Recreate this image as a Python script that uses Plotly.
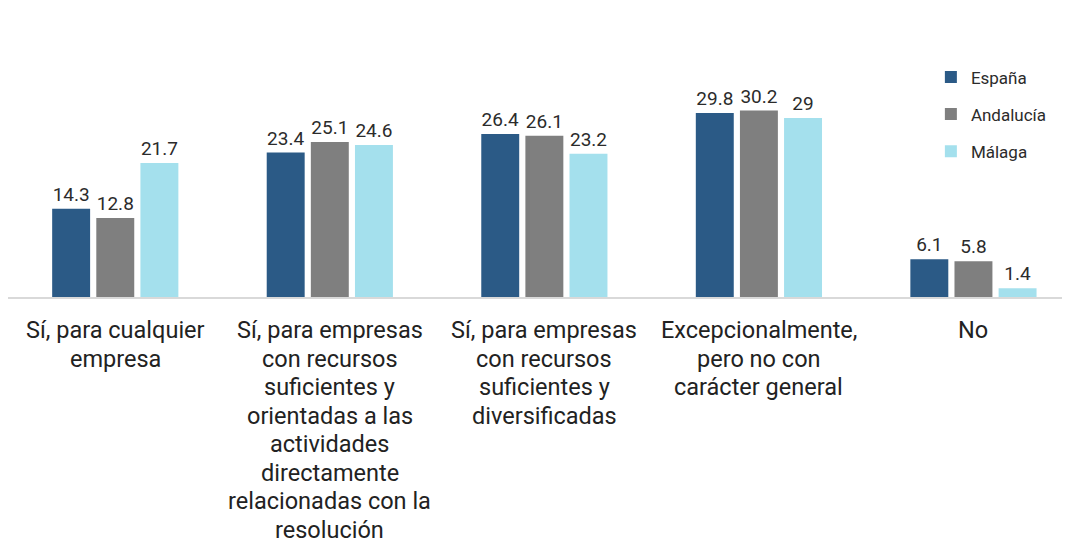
import plotly.graph_objects as go

categories = [
    "Sí, para cualquier<br>empresa",
    "Sí, para empresas<br>con recursos<br>suficientes y<br>orientadas a las<br>actividades<br>directamente<br>relacionadas con la<br>resolución",
    "Sí, para empresas<br>con recursos<br>suficientes y<br>diversificadas",
    "Excepcionalmente,<br>pero no con<br>carácter general",
    "No",
]
espana = [14.3, 23.4, 26.4, 29.8, 6.1]
andalucia = [12.8, 25.1, 26.1, 30.2, 5.8]
malaga = [21.7, 24.6, 23.2, 29, 1.4]

series = [("España", espana, "#2b5a86"), ("Andalucía", andalucia, "#7f7f7f"), ("Málaga", malaga, "#a4e0ed")]

FONT = "Roboto"
xs = list(range(len(categories)))

fig = go.Figure()
for name, vals, color in series:
    fig.add_trace(go.Bar(
        x=xs, y=vals, name=name, legendgroup=name,
        marker=dict(color=color, line=dict(width=0)),
        text=[f"{v:g}" for v in vals], textposition="outside",
        textfont=dict(family=FONT, size=19, color="#2b2b2b"),
        cliponaxis=False,
    ))

LINE_H = 28.5
for i, cat in enumerate(categories):
    for j, line in enumerate(cat.split("<br>")):
        fig.add_annotation(
            x=i, y=0, xref="x", yref="y", text=line, showarrow=False,
            yanchor="top", xanchor="center", yshift=-(17 + j * LINE_H),
            font=dict(family=FONT, size=23.5, color="#222222"),
        )

fig.update_layout(
    width=1062, height=538,
    margin=dict(l=0, r=0, t=42, b=249),
    paper_bgcolor="white", plot_bgcolor="white",
    barmode="group", bargap=0.383, bargroupgap=0.14,
    font=dict(family=FONT, color="#333333"),
    legend=dict(x=0.869, y=0.962, xanchor="left", yanchor="top",
                font=dict(family=FONT, size=17, color="#2b2b2b"),
                tracegroupgap=12, itemwidth=30, bgcolor="rgba(0,0,0,0)"),
    xaxis=dict(range=[-0.5, 4.45], showticklabels=False, showgrid=False,
               showline=True, linecolor="#d9d9d9", linewidth=1.5, ticks="",
               zeroline=False),
    yaxis=dict(range=[0, 40], visible=False, showgrid=False, zeroline=False),
)

fig.write_html("out.html")
